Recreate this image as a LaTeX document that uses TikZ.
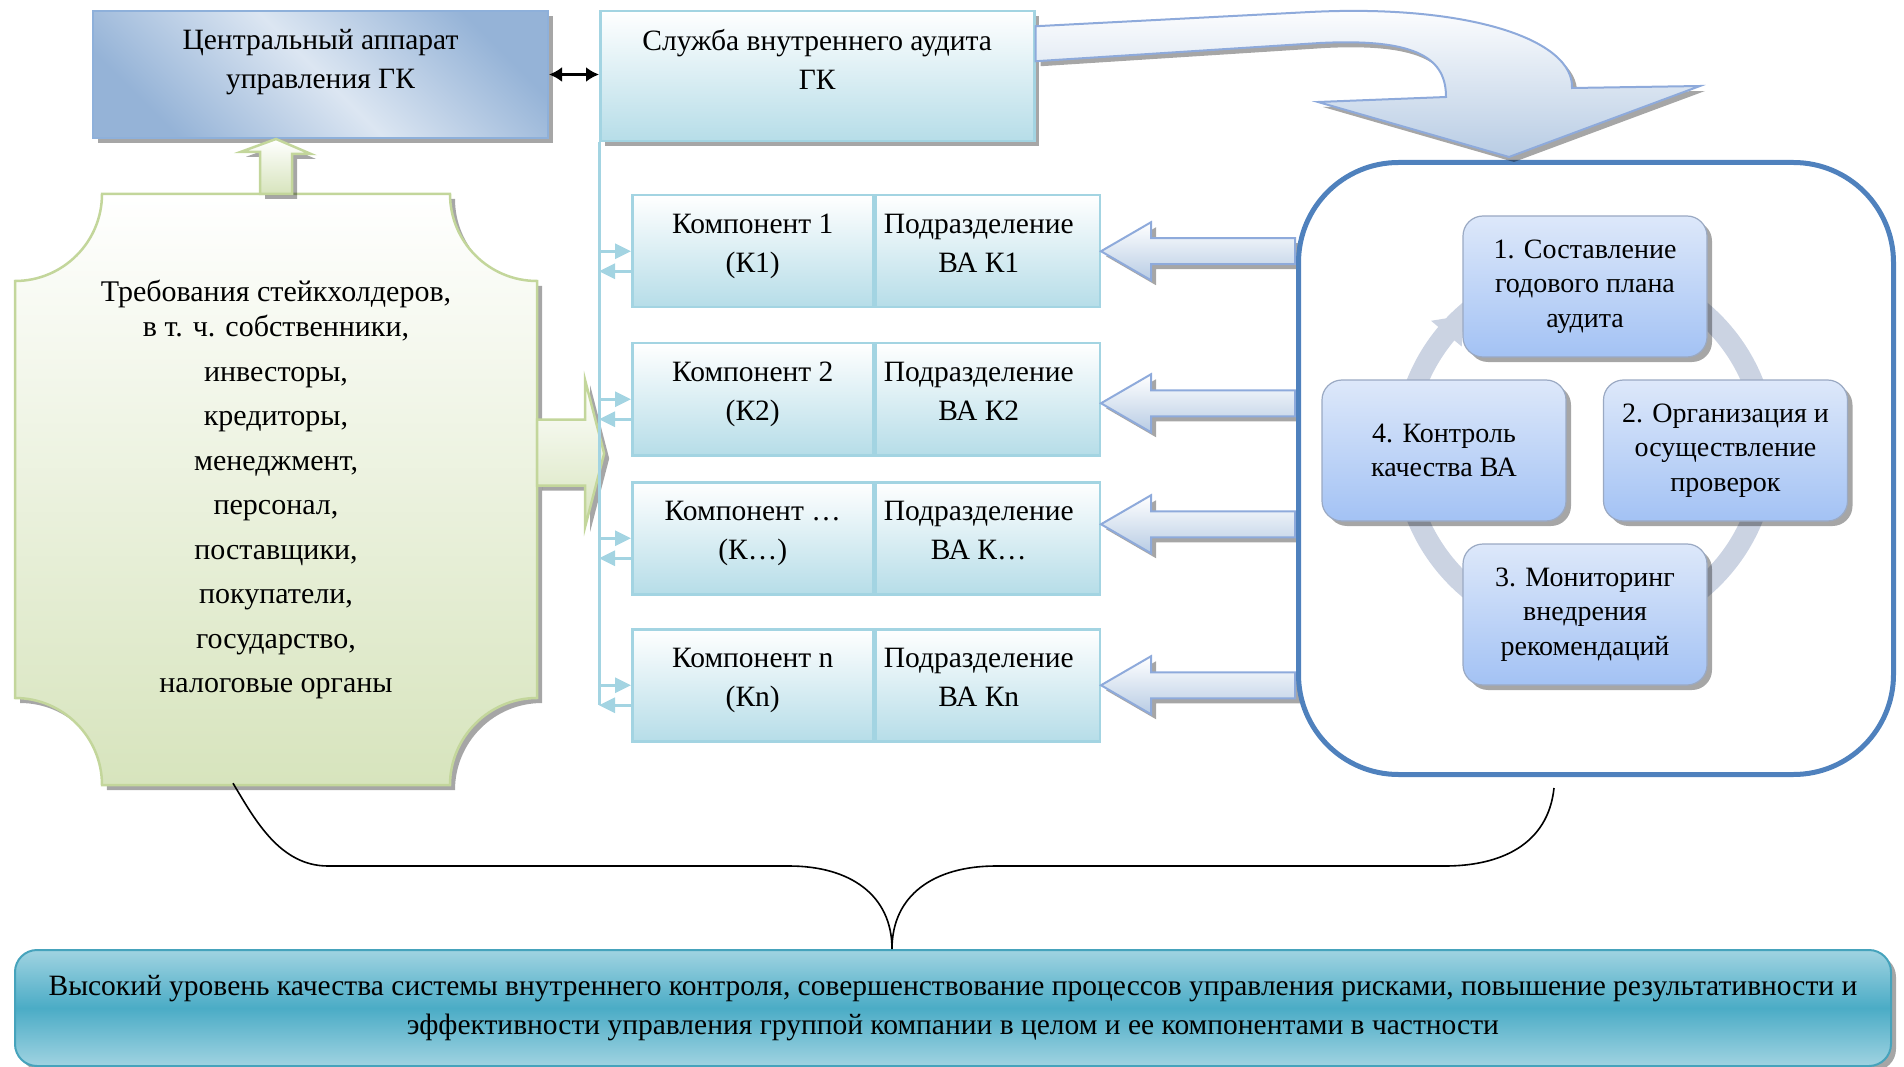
\documentclass[tikz,border=0pt]{standalone}
\usepackage{fontspec}
\setmainfont{Liberation Serif}
\usetikzlibrary{arrows.meta,calc,shadows}

\definecolor{capdark}{HTML}{95B3D7}
\definecolor{caplight}{HTML}{DCE6F2}
\definecolor{capline}{HTML}{8EB0DA}
\definecolor{aqualine}{HTML}{A3D4E2}
\definecolor{aquafill}{HTML}{B6DDE8}
\definecolor{greenfill}{HTML}{D7E4BD}
\definecolor{greenline}{HTML}{C3D69B}
\definecolor{pipeblue}{HTML}{B8CCE4}
\definecolor{pipeline}{HTML}{8EAADB}
\definecolor{frameblue}{HTML}{4F81BD}
\definecolor{stagetop}{HTML}{DDE8FA}
\definecolor{stagebot}{HTML}{A3C2F4}
\definecolor{stageline}{HTML}{9AA9C3}
\definecolor{ringgray}{HTML}{CBD3E2}
\definecolor{tealmid}{HTML}{4BACC6}
\definecolor{teallight}{HTML}{A0D3E1}
\definecolor{tealline}{HTML}{46A3BC}

\begin{document}
\begin{tikzpicture}[
    x=1pt, y=-1pt,
    lbl/.style={font=\fontsize{29.5}{39}\selectfont, align=center, inner sep=0pt},
    dropped/.style={drop shadow={shadow xshift=5pt, shadow yshift=-5pt, fill=black, opacity=.35}},
    capbox/.style={lbl, draw=capline, line width=2pt, top color=capdark, bottom color=capdark, middle color=caplight, shading angle=-45, dropped},
    aquabox/.style={lbl, draw=aqualine, line width=2.5pt, top color=white, bottom color=aquafill},
    stage/.style={font=\fontsize{28}{34.5}\selectfont, align=center, inner sep=0pt, draw=stageline, line width=1.2pt, rounded corners=20pt, top color=stagetop, bottom color=stagebot, minimum width=244pt, minimum height=141pt, dropped},
    pipe/.style={draw=pipeline, line width=2pt, top color=white, bottom color=pipeblue, dropped},
    sprout/.style={draw=greenline, line width=2.5pt, top color=white, bottom color=greenfill, dropped},
    tap/.style={draw=aqualine, line width=3pt, -{Triangle[length=16pt,width=15pt]}},
  ]
  \useasboundingbox (0,0) rectangle (1904,1067);

  % top row
  \node[capbox, minimum width=455pt, minimum height=127pt, text height=59pt, text depth=30pt, anchor=north west] (cap) at (92,10) {Центральный аппарат\\управления ГК};
  \node[aquabox, dropped, minimum width=434pt, minimum height=130pt, text height=59pt, text depth=33pt, anchor=north west] (audit) at (599,10) {Служба внутреннего аудита\\ГК};
  \draw[{Latex[length=13pt,width=15pt]}-{Latex[length=13pt,width=15pt]}, line width=2.5pt] (cap.east) -- (cap.east -| audit.west);

  % stakeholders
  \draw[sprout] (102,194) -- (450,194) .. controls (450,242) and (489,281) .. (537,281)
    -- (537,698) .. controls (489,698) and (450,737) .. (450,785)
    -- (102,785) .. controls (102,737) and (63,698) .. (15,698)
    -- (15,281) .. controls (63,281) and (102,242) .. (102,194) -- cycle;
  \node[font=\fontsize{30}{35}\selectfont, align=center, inner sep=0pt, minimum width=522pt, minimum height=591pt] (stake) at (276,489.5)
    {Требования стейкхолдеров,\\в т. ч. собственники,\\[9.5pt]инвесторы,\\[9.5pt]кредиторы,\\[9.5pt]менеджмент,\\[9.5pt]персонал,\\[9.5pt]поставщики,\\[9.5pt]покупатели,\\[9.5pt]государство,\\[9.5pt]налоговые органы};
  \draw[sprout] ([xshift=-16pt]stake.north) -- ++(0,-42) -- ++(-19,0) -- (stake.north |- cap.south) -- ++(35,15) -- ++(-19,0) -- ([xshift=16pt]stake.north) -- cycle;
  \draw[sprout] ([yshift=70pt]stake.east) -- ++(48,0) -- ++(0,-39) -- ++(19,73) -- ++(-19,73) -- ++(0,-41) -- ++(-48,0) -- cycle;

  % components
  \foreach \i/\k/\ty/\dy in {1/1/194/0, 2/2/342/-4, 3/…/481/14, 4/n/628/0} {
    \node[aquabox, minimum width=241pt, minimum height=112pt, text height=59pt, text depth=17pt, anchor=north west] (comp\i) at (631,\ty) {Компонент \k\\(К\k)};
    \node[aquabox, minimum width=224pt, minimum height=112pt, text height=59pt, text depth=17pt, anchor=north west] (unit\i) at (comp\i.north east) {Подразделение\hspace*{18pt}\\ВА К\k\hspace*{18pt}};
    \draw[tap] (audit.west |- comp\i.west) -- (comp\i.west);
    \draw[tap] ($(comp\i.west)+(0,20)$) -- ($(audit.west |- comp\i.west)+(0,20)$);
    \draw[pipe] ([yshift=\dy pt]unit\i.east) -- ++(50,-29) -- ++(0,16) -- ++(144,0) -- ++(0,26) -- ++(-144,0) -- ++(0,16) -- cycle;
  }
  \draw[aqualine, line width=3pt] (audit.south west) -- ($(audit.west |- comp4.west)+(0,20)$);

  % audit cycle
  \node[draw=frameblue, line width=5pt, rounded corners=100pt, minimum width=595pt, minimum height=612pt, anchor=north west] (frame) at (1296,160) {};
  \coordinate (hub) at (1585,450);
  \draw[ringgray, line width=21pt] (hub) circle[radius=181pt];
  \fill[ringgray] ($(hub)+(228:181)$) -- ($(hub)+(220:201)$) -- ($(hub)+(220:161)$) -- cycle;
  \node[stage] (st1) at (1585,286.5) {1. Составление\\годового плана\\аудита};
  \node[stage] (st2) at (1725.5,450.5) {2. Организация и\\осуществление\\проверок};
  \node[stage] (st3) at (1585,614.5) {3. Мониторинг\\внедрения\\рекомендаций};
  \node[stage] (st4) at (1444,450.5) {4. Контроль\\качества ВА};

  % big arrow
  \coordinate (drop) at (1509,157);
  \draw[pipe] ([yshift=50pt]audit.east) -- (1310,12) .. controls (1470,4) and (1574,40) .. (1572,88)
    -- (1700,86) -- (drop) -- (1318,102) -- (1446,97) .. controls (1446,60) and (1420,38) .. (1320,43)
    -- ([yshift=15pt]audit.east) -- cycle;

  % result
  \node[lbl, draw=tealline, line width=2pt, rounded corners=22pt, top color=teallight, bottom color=teallight, middle color=tealmid, minimum width=1876pt, minimum height=116pt, dropped] (goal) at (953,1008)
    {Высокий уровень качества системы внутреннего контроля, совершенствование процессов управления рисками, повышение результативности и\\эффективности управления группой компании в целом и ее компонентами в частности};
  \coordinate (bl) at ([xshift=-43pt,yshift=2pt]stake.south);
  \coordinate (br) at ([xshift=-42pt,yshift=-11pt]frame.south);
  \coordinate (bt) at ([xshift=-61pt]goal.north);
  \draw[line width=1.6pt] (bl) .. controls (255,820) and (280,866) .. (328,866) -- (789,866)
    .. controls (850,866) and (892,895) .. (bt) .. controls (892,895) and (934,866) .. (996,866)
    -- (1445,866) .. controls (1500,866) and (1548,845) .. (br);
\end{tikzpicture}
\end{document}
